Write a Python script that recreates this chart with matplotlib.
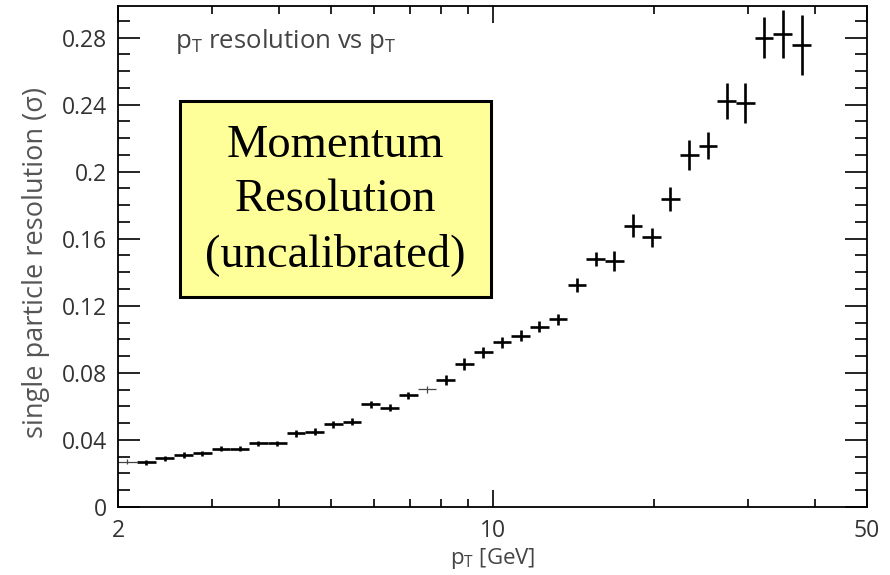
import matplotlib.pyplot as plt
import numpy as np
from matplotlib.patches import Rectangle
from matplotlib.ticker import FixedLocator, NullFormatter

# pT bin centres [GeV] (log-spaced bins) and measured resolution
pt = [2.082, 2.257, 2.446, 2.651, 2.873, 3.114, 3.375, 3.657, 3.964, 4.296,
      4.656, 5.046, 5.469, 5.928, 6.424, 6.963, 7.546, 8.178, 8.864, 9.607,
      10.41, 11.28, 12.23, 13.25, 14.37, 15.57, 16.87, 18.29, 19.82, 21.48,
      23.28, 25.23, 27.35, 29.64, 32.12, 34.81, 37.73]
sigma = [0.0270, 0.0266, 0.0290, 0.0310, 0.0320, 0.0346, 0.0346, 0.0380, 0.0380, 0.0440,
         0.0449, 0.0493, 0.0509, 0.0612, 0.0592, 0.0666, 0.0702, 0.0757, 0.0853, 0.0922,
         0.0982, 0.1022, 0.1075, 0.1119, 0.1324, 0.1479, 0.1469, 0.1678, 0.1608, 0.1839,
         0.2099, 0.2154, 0.2421, 0.2411, 0.2799, 0.2820, 0.2755]
sigma_err = [0.0015, 0.0015, 0.0015, 0.0015, 0.0015, 0.0015, 0.0015, 0.0015, 0.0015, 0.0020,
             0.0020, 0.0020, 0.0020, 0.0020, 0.0020, 0.0020, 0.0020, 0.0030, 0.0034, 0.0034,
             0.0034, 0.0034, 0.0034, 0.0034, 0.0040, 0.0043, 0.0060, 0.0067, 0.0055, 0.0072,
             0.0090, 0.0080, 0.0105, 0.0118, 0.0124, 0.0144, 0.0179]
bin_ratio = 1.0838   # width of one pT bin (upper edge / lower edge)
faint = [0, 16]      # bins drawn with a hairline

x_major = [2, 10, 50]
x_minor = [3, 4, 5, 6, 7, 8, 9, 20, 30, 40]
y_major = [0, 0.04, 0.08, 0.12, 0.16, 0.2, 0.24, 0.28]

plt.rcParams['font.family'] = ['Open Sans', 'DejaVu Sans']

fig = plt.figure(figsize=(8.9, 5.75), dpi=100)
ax = fig.add_axes([0.1326, 0.1183, 0.8416, 0.8713])

pt = np.array(pt)
sigma = np.array(sigma)
sigma_err = np.array(sigma_err)
half = np.sqrt(bin_ratio)
bold = np.array([i not in faint for i in range(len(pt))])

for sel, lw, col in [(bold, 1.9, 'black'), (~bold, 0.9, '#444444')]:
    x = pt[sel]
    ax.errorbar(x, sigma[sel], xerr=[x - x / half, x * half - x], yerr=sigma_err[sel],
                fmt='none', ecolor=col, elinewidth=lw, capsize=0)

ax.set_xscale('log')
ax.set_xlim(2, 50)
ax.set_ylim(0, 0.2988)

ax.xaxis.set_major_locator(FixedLocator(x_major))
ax.xaxis.set_minor_locator(FixedLocator(x_minor))
ax.xaxis.set_minor_formatter(NullFormatter())
ax.set_xticklabels([str(v) for v in x_major])
ax.yaxis.set_major_locator(FixedLocator(y_major))
ax.yaxis.set_minor_locator(FixedLocator(np.arange(0.01, 0.30, 0.01)))
ax.set_yticklabels(['%g' % v for v in y_major])

ax.tick_params(axis='both', which='both', direction='in', top=True, right=True,
               colors='black', labelcolor='#333333', labelsize=16.5, width=1.2)
ax.tick_params(axis='x', which='major', length=12, pad=9)
ax.tick_params(axis='x', which='minor', length=6)
ax.tick_params(axis='y', which='major', length=16, pad=8)
ax.tick_params(axis='y', which='minor', length=8.5)
for s in ax.spines.values():
    s.set_linewidth(1.3)

ax.set_xlabel(r'p$_{\mathregular{T}}$ [GeV]', fontsize=16, color='#444444', labelpad=2)
fig.text(0.040, 0.544, 'single particle resolution (\u03c3)', rotation=90,
         fontsize=19.5, color='#555555', ha='center', va='center')

ax.text(0.076, 0.916, r'p$_{\mathregular{T}}$ resolution vs p$_{\mathregular{T}}$',
        transform=ax.transAxes, fontsize=18.5, color='#444444', va='baseline')

# yellow label box
ax.add_patch(Rectangle((0.0828, 0.419), 0.4152, 0.391, transform=ax.transAxes,
                       facecolor='#ffff99', edgecolor='black', lw=2.2, zorder=3))
ax.text(0.2897, 0.612, 'Momentum\nResolution\n(uncalibrated)', transform=ax.transAxes,
        family='Liberation Serif', fontsize=33.5, ha='center', va='center',
        linespacing=1.35, zorder=4)

fig.savefig('out.png', dpi=100)
